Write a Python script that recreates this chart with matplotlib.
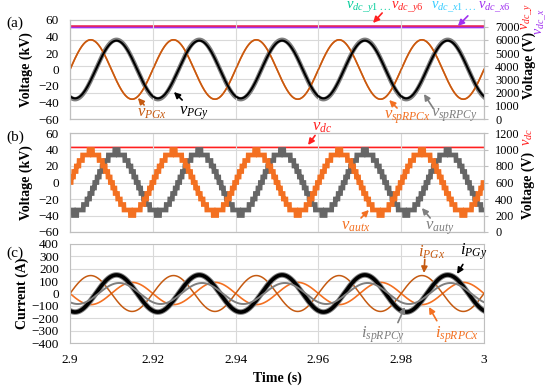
import numpy as np
import matplotlib
matplotlib.use('Agg')
import matplotlib.pyplot as plt
from matplotlib.ticker import MultipleLocator, FuncFormatter

plt.rcParams.update({'font.family': 'Liberation Serif', 'font.size': 9,
                     'mathtext.fontset': 'custom', 'mathtext.rm': 'Liberation Serif',
                     'mathtext.it': 'Liberation Serif:italic', 'mathtext.bf': 'Liberation Serif:bold',
                     'axes.unicode_minus': True})

# time window and fundamental (5 cycles in 0.1 s)
t_start, t_end, f0 = 2.9, 3.0, 50.0
# (a) grid-side / converter voltages: amplitude, phase (deg)
vPGx_amp, vPGx_ph = 36.0, 0.0          # kV
vPGy_amp, vPGy_ph = 35.0, -112.0       # kV
vsp_center, vsp_amp = 3750.0, 2250.0   # V, secondary axis
vdc_x_level, vdc_y_level = 6975.0, 7045.0
# (b) multilevel outputs
vaut_amp, vaut_step = 37.0, 20/3       # kV
vautx_ph, vauty_ph = 0.0, -112.0
vdc_b = 1025.0                         # V
# (c) currents: amplitude (A), phase (deg)
iPGx_amp, iPGx_ph = 145.0, 0.0
iPGy_amp, iPGy_ph = 150.0, -112.0
ispx_amp, ispx_ph = 90.0, 180.0
ispy_amp, ispy_ph = 85.0, -124.0

BROWN = '#C55A11'; ORANGE = '#F37021'; GRAY = '#7F7F7F'; DGRAY = '#666666'
RED = '#FF2020'; PURPLE = '#A030F0'; TEAL = '#00CC99'; CYAN = '#33CCFF'
GRID = '#D9D9D9'

t = np.linspace(t_start, t_end, 4001)
th = 2*np.pi*f0*(t - t_start)
def wave(a, ph): return a*np.sin(th + np.deg2rad(ph))

W, H = 550, 388
fig = plt.figure(figsize=(W/100, H/100), dpi=100)
def rect(top, bot): return [70/W, 1-bot/H, 414/W, (bot-top)/H]

def style(ax, ylo, yhi, ystep, xlabels=False):
    ax.set_xlim(t_start, t_end); ax.set_ylim(ylo, yhi)
    ax.yaxis.set_major_locator(MultipleLocator(ystep))
    ax.xaxis.set_major_locator(MultipleLocator(0.02))
    for s in ax.spines.values(): s.set_color('#BFBFBF'); s.set_linewidth(0.8)
    ax.tick_params(axis='y', length=0, pad=8, labelsize=9.5)
    ax.tick_params(axis='x', length=0, pad=8, labelsize=9.5)
    ax.grid(True, axis='x', color=GRID, lw=0.8)
    if not xlabels: ax.set_xticklabels([])
    ax.set_axisbelow(True)

def right(ax, ylo, yhi, ystep, grid=False):
    r = ax.twinx()
    r.set_ylim(ylo, yhi); r.yaxis.set_major_locator(MultipleLocator(ystep))
    for s in r.spines.values(): s.set_color('#BFBFBF'); s.set_linewidth(0.8)
    r.tick_params(axis='y', length=3, color='#BFBFBF', pad=5, labelsize=8.8)
    if grid: r.grid(True, axis='y', color=GRID, lw=0.8)
    return r

def arrow(ax, head, tail, color):
    ax.annotate('', xy=head, xytext=tail, annotation_clip=False,
                arrowprops=dict(arrowstyle='-|>', color=color, lw=1.2, mutation_scale=9,
                                shrinkA=0, shrinkB=0))

def ann(ax, txt, head, tail, pos, color, fs=12):
    ax.text(pos[0], pos[1], txt, color=color, fontsize=fs, ha='center', va='center', clip_on=False)
    arrow(ax, head, tail, color)

# ---------- (a)
ax1 = fig.add_axes(rect(20, 119))
style(ax1, -60, 60, 20)
r1 = right(ax1, 0, 7500, 1000, grid=True)
r1.set_yticks(np.arange(0, 7001, 1000))
r1.set_zorder(0); ax1.set_zorder(1); ax1.patch.set_visible(False)
r1.plot(t, vsp_center + vsp_amp*np.sin(th + np.deg2rad(vPGx_ph)), color=ORANGE, lw=1.2)
r1.plot(t, vsp_center + vsp_amp*np.sin(th + np.deg2rad(vPGy_ph)), color=GRAY, lw=3.2)
r1.plot(t, np.full_like(t, vdc_x_level), color=PURPLE, lw=2.0)
r1.plot(t, np.full_like(t, vdc_y_level), color=RED, lw=1.1, alpha=0.8)
ax1.plot(t, wave(vPGx_amp, vPGx_ph), color=BROWN, lw=1.1)
ax1.plot(t, wave(vPGy_amp, vPGy_ph), color='black', lw=1.5)
ax1.set_ylabel('Voltage (kV)', fontweight='bold', fontsize=10)
ax1.yaxis.set_label_coords(-0.089, 0.5)
ann(ax1, r'$v_{PGx}$', (2.9164, -34.5), (2.9179, -43), (2.9198, -52.7), BROWN)
ann(ax1, r'$v_{PGy}$', (2.9251, -27.3), (2.9271, -37), (2.9300, -52.7), 'black')
ann(ax1, r'$v_{spRPCx}$', (2.9771, -37), (2.9790, -46.7), (2.9814, -57.6), ORANGE)
ann(ax1, r'$v_{spRPCy}$', (2.9855, -29.7), (2.9877, -46.7), (2.9928, -55), GRAY)
ax1.text(2.9667, 75.8, r'$v_{dc\_y1\ ...}$', color=TEAL, fontsize=10.5, va='center', clip_on=False)
ax1.text(2.9775, 75.8, r'$v_{dc\_y6}$', color=RED, fontsize=10.5, va='center', clip_on=False)
ax1.text(2.9873, 75.8, r'$v_{dc\_x1\ ...}$', color=CYAN, fontsize=10.5, va='center', clip_on=False)
ax1.text(2.9985, 75.8, r'$v_{dc\_x6}$', color=PURPLE, fontsize=10.5, va='center', clip_on=False)
arrow(ax1, (2.9732, 56.4), (2.9754, 68.5), RED)
arrow(ax1, (2.9937, 52.7), (2.9961, 65.0), PURPLE)
fig.text(529/W, 1-65/H, 'Voltage (V)', rotation=90, fontweight='bold', fontsize=10, ha='center', va='center')
fig.text(526/W, 1-17/H, r'$v_{dc\_y}$', rotation=90, color=RED, fontsize=10, ha='center', va='center')
fig.text(541/W, 1-22/H, r'$v_{dc\_x}$', rotation=90, color=PURPLE, fontsize=10, ha='center', va='center')
fig.text(6/W, 1-23/H, '(a)', fontsize=11, va='center')

# ---------- (b)
ax2 = fig.add_axes(rect(133, 232))
style(ax2, -60, 60, 20)
ax2.grid(True, axis='y', color=GRID, lw=0.8)
r2 = right(ax2, 0, 1200, 200)
r2.set_zorder(0); ax2.set_zorder(1); ax2.patch.set_visible(False)
vautx = np.round(wave(vaut_amp, vautx_ph)/vaut_step)*vaut_step
vauty = np.round(wave(vaut_amp, vauty_ph)/vaut_step)*vaut_step
ax2.plot(t, vauty, color=DGRAY, lw=3.4, solid_joinstyle='miter')
ax2.plot(t, vautx, color=ORANGE, lw=3.4, solid_joinstyle='miter')
r2.plot(t, np.full_like(t, vdc_b), color=RED, lw=1.2)
ax2.set_ylabel('Voltage (kV)', fontweight='bold', fontsize=10)
ax2.yaxis.set_label_coords(-0.089, 0.5)
ann(ax2, r'$v_{autx}$', (2.9722, -33.3), (2.9703, -43), (2.9690, -52.7), ORANGE)
ann(ax2, r'$v_{auty}$', (2.9850, -30.9), (2.9870, -43), (2.9894, -55.2), GRAY)
ax2.text(2.9585, 67.3, r'$v_{dc}$', color=RED, fontsize=12, va='center', clip_on=False)
arrow(ax2, (2.9575, 45.5), (2.9592, 57), RED)
fig.text(528/W, 1-185/H, 'Voltage (V)', rotation=90, fontweight='bold', fontsize=10, ha='center', va='center')
fig.text(528/W, 1-137/H, r'$v_{dc}$', rotation=90, color=RED, fontsize=10.5, ha='center', va='center')
fig.text(6/W, 1-137/H, '(b)', fontsize=11, va='center')

# ---------- (c)
ax3 = fig.add_axes(rect(244, 343))
style(ax3, -400, 400, 100, xlabels=True)
ax3.grid(True, axis='y', color=GRID, lw=0.8)
ax3.xaxis.set_major_formatter(FuncFormatter(lambda v, p: f'{v:g}'))
ax3.plot(t, wave(ispx_amp, ispx_ph), color=ORANGE, lw=1.2)
ax3.plot(t, wave(iPGx_amp, iPGx_ph), color=BROWN, lw=1.1)
ax3.plot(t, wave(iPGy_amp, iPGy_ph), color=GRAY, lw=4.0)
ax3.plot(t, wave(iPGy_amp, iPGy_ph), color='black', lw=2.6)
ax3.plot(t, wave(ispy_amp, ispy_ph), color=GRAY, lw=1.4)
ax3.set_ylabel('Current (A)', fontweight='bold', fontsize=10)
ax3.yaxis.set_label_coords(-0.099, 0.5)
ax3.set_xlabel('Time (s)', fontweight='bold', fontsize=10, labelpad=4)
ann(ax3, r'$i_{PGx}$', (2.9855, 166), (2.9857, 275), (2.9874, 335), BROWN)
ann(ax3, r'$i_{PGy}$', (2.9935, 158), (2.9949, 235), (2.9976, 335), 'black')
ann(ax3, r'$i_{spRPCy}$', (2.9809, -109), (2.9792, -235), (2.9756, -335), GRAY)
ann(ax3, r'$i_{spRPCx}$', (2.9867, -109), (2.9886, -220), (2.9935, -335), ORANGE)
fig.text(6/W, 1-253/H, '(c)', fontsize=11, va='center')

fig.savefig('out.png', dpi=100)
